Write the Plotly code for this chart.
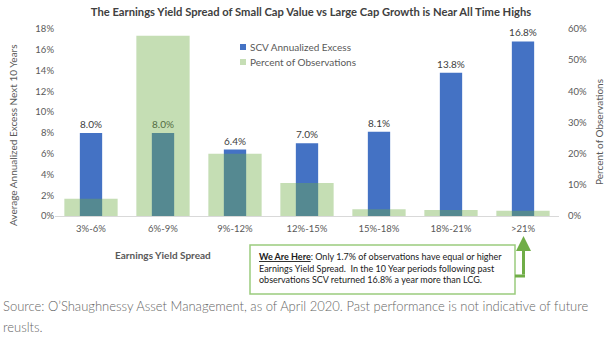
import plotly.graph_objects as go

categories = ["3%-6%", "6%-9%", "9%-12%", "12%-15%", "15%-18%", "18%-21%", ">21%"]
scv_excess = [8.0, 8.0, 6.4, 7.0, 8.1, 13.8, 16.8]
pct_obs = [5.5, 57.8, 20.0, 10.6, 2.2, 1.9, 1.7]
left_ticks = [0, 2, 4, 6, 8, 10, 12, 14, 16, 18]
right_ticks = [0, 10, 20, 30, 40, 50, 60]
series_names = ["SCV Annualized Excess", "Percent of Observations"]

W, H = 610, 345
L, R, T, B = 55, 559, 29, 216


def px2x(px):
    return (px - L) / (R - L)


def py2y(py):
    return (B - py) / (B - T)


FONT = "Lato, Carlito, Calibri, sans-serif"
GRAY = "#595959"
BLUE = "#4472C4"
GREEN = "#70AD47"

fig = go.Figure()
fig.add_trace(go.Bar(
    x=categories, y=scv_excess, name=series_names[0],
    marker=dict(color=BLUE, line=dict(width=0)), width=0.31,
    text=[f"{v:.1f}%" for v in scv_excess], textposition="outside",
    constraintext="none",
    textfont=dict(size=10, color="#404040", family=FONT), cliponaxis=False,
    yaxis="y", showlegend=False,
))
fig.add_trace(go.Bar(
    x=categories, y=pct_obs, name=series_names[1],
    marker=dict(color=GREEN, line=dict(width=0)), opacity=0.4, width=0.74,
    yaxis="y2", showlegend=False,
))

fig.update_layout(
    width=W, height=H,
    margin=dict(l=L, r=W - R, t=T, b=H - B),
    paper_bgcolor="white", plot_bgcolor="white",
    barmode="overlay",
    font=dict(family=FONT, color=GRAY, size=10),
    title=dict(
        text="<b>The Earnings Yield Spread of Small Cap Value vs Large Cap Growth is Near All Time Highs</b>",
        x=311 / W, xanchor="center", y=1 - 12 / H, yanchor="middle",
        font=dict(size=11.2, color="#404040", family=FONT),
    ),
    showlegend=False,
    xaxis=dict(
        type="category", range=[-0.5, 6.5], showgrid=False,
        showline=True, linecolor="#D9D9D9", linewidth=1,
        ticks="", tickfont=dict(size=9.5, color=GRAY), ticklabelstandoff=4,
    ),
    yaxis=dict(
        range=[0, 18], tickvals=left_ticks, ticktext=[f"{v}%" for v in left_ticks],
        showgrid=False, zeroline=False, showline=False, ticks="",
        tickfont=dict(size=9.5, color=GRAY),
    ),
    yaxis2=dict(
        range=[0, 60], tickvals=right_ticks, ticktext=[f"{v}%" for v in right_ticks],
        overlaying="y", side="right", showgrid=False, zeroline=False,
        showline=False, ticks="", tickfont=dict(size=9.5, color=GRAY),
        ticklabelstandoff=8,
    ),
)

annotations = [
    dict(text="Average Annualized Excess Next 10 Years", x=px2x(13), y=py2y(135),
         textangle=-90, font=dict(size=10, color=GRAY)),
    dict(text="Percent of Observations", x=px2x(599), y=py2y(132),
         textangle=-90, font=dict(size=10, color=GRAY)),
    dict(text="<b>Earnings Yield Spread</b>", x=px2x(163), y=py2y(255),
         font=dict(size=10, color="#595959")),
    dict(text=series_names[0], x=px2x(248), y=py2y(47), xanchor="left",
         font=dict(size=10, color=GRAY)),
    dict(text=series_names[1], x=px2x(248), y=py2y(62), xanchor="left",
         font=dict(size=10, color=GRAY)),
    dict(text="<b><u>We Are Here</u></b>: Only 1.7% of observations have equal or higher<br>"
              "Earnings Yield Spread. &nbsp;In the 10 Year periods following past<br>"
              "observations SCV returned 16.8% a year more than LCG.",
         x=px2x(257), y=py2y(268), xanchor="left", yanchor="middle", align="left",
         font=dict(size=9, color="#1a1a1a")),
    dict(text="Source: O\u2019Shaughnessy Asset Management, as of April 2020. Past performance is not indicative of future",
         x=px2x(1), y=py2y(306), xanchor="left", yanchor="middle",
         font=dict(size=13, color="#666666", weight=300)),
    dict(text="reuslts.", x=px2x(1), y=py2y(327), xanchor="left", yanchor="middle",
         font=dict(size=13, color="#666666", weight=300)),
    dict(text="", x=px2x(523.5), y=py2y(236), ax=0, ay=40, showarrow=True,
         arrowhead=2, arrowsize=1, arrowwidth=3, arrowcolor=GREEN),
]
for a in annotations:
    a.setdefault("xref", "paper")
    a.setdefault("yref", "paper")
    a.setdefault("showarrow", False)
    a.setdefault("xanchor", "center")
    a.setdefault("yanchor", "middle")
fig.update_layout(annotations=annotations)

fig.update_layout(shapes=[
    dict(type="rect", xref="paper", yref="paper",
         x0=px2x(240), x1=px2x(246), y0=py2y(50), y1=py2y(44),
         line=dict(width=0), fillcolor=BLUE),
    dict(type="rect", xref="paper", yref="paper",
         x0=px2x(240), x1=px2x(246), y0=py2y(65), y1=py2y(59),
         line=dict(width=0), fillcolor=GREEN, opacity=0.4),
    dict(type="rect", xref="paper", yref="paper",
         x0=px2x(250), x1=px2x(515), y0=py2y(245), y1=py2y(294),
         line=dict(color="#9BCB7D", width=1.5), fillcolor="white", layer="below"),
    dict(type="line", xref="paper", yref="paper",
         x0=px2x(515), x1=px2x(525), y0=py2y(276), y1=py2y(276),
         line=dict(color=GREEN, width=3)),
])

fig.write_html("out.html")
